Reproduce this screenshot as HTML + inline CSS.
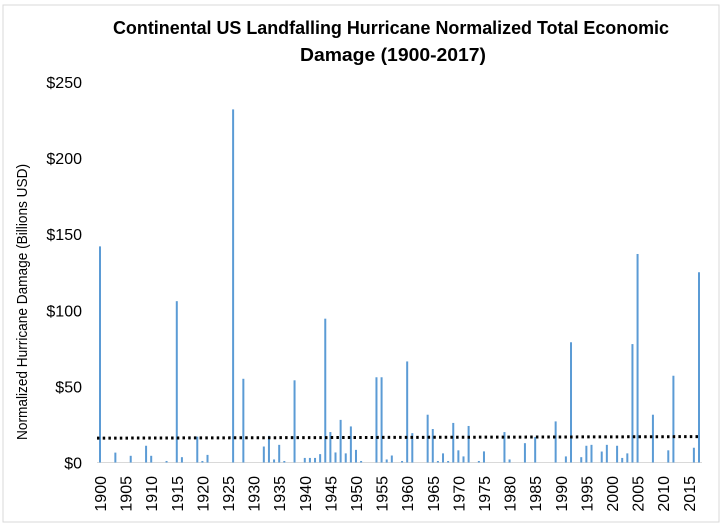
<!DOCTYPE html>
<html><head><meta charset="utf-8"><style>
html,body{margin:0;padding:0;background:#fff;}
svg{display:block;font-family:"Liberation Sans",sans-serif;}
</style></head><body>
<svg id="chart" width="722" height="525" viewBox="0 0 722 525">
<rect x="3" y="5" width="716" height="517" fill="#fff" stroke="#d9d9d9"/>
<text x="391" y="34" text-anchor="middle" font-size="18" font-weight="bold" textLength="556" lengthAdjust="spacingAndGlyphs">Continental US Landfalling Hurricane Normalized Total Economic</text>
<text x="393" y="61" text-anchor="middle" font-size="18" font-weight="bold" textLength="186" lengthAdjust="spacingAndGlyphs">Damage  (1900-2017)</text>
<text transform="translate(27,302) rotate(-90)" text-anchor="middle" font-size="15" textLength="276" lengthAdjust="spacingAndGlyphs">Normalized Hurricane Damage (Billions USD)</text>
<g id="yticks"></g><g id="xticks"></g>
<line x1="97" y1="462.5" x2="702" y2="462.5" stroke="#d9d9d9" stroke-width="1"/>
<g id="bars"></g><g id="trend"></g>
</svg>
<script>
const years = [1900,1903,1906,1909,1910,1913,1915,1916,1919,1920,1921,1926,1928,1932,1933,1934,1935,1936,1938,1940,1941,1942,1943,1944,1945,1946,1947,1948,1949,1950,1951,1954,1955,1956,1957,1959,1960,1961,1964,1965,1966,1967,1968,1969,1970,1971,1972,1974,1975,1979,1980,1983,1985,1989,1991,1992,1994,1995,1996,1998,1999,2001,2002,2003,2004,2005,2008,2011,2012,2016,2017];
const damage = [142,6.5,4.4,11,4.4,1,106,3.5,17,1,5,232,55,10.5,17.5,2,11.6,1,54,3,3,3,5.5,94.5,20,6.6,28,6,23.7,8.3,1,56,56,2,4.6,1,66.4,19.3,31.4,22,1,6,1,26,8,4,24,1,7.3,20,2,12.7,16.7,27,4,79,3.5,11,11.6,7.2,11.6,11,3,6,77.8,137,31.4,8,57,9.7,125];
const trendStart = [1900,16];
const trendEnd = [2017,17];
const yTickValues = [0,50,100,150,200,250];
const xTickYears = [1900,1905,1910,1915,1920,1925,1930,1935,1940,1945,1950,1955,1960,1965,1970,1975,1980,1985,1990,1995,2000,2005,2010,2015];

const NS="http://www.w3.org/2000/svg";
const xScale = y => 100 + (y-1900)*(599/117);
const yScale = v => 462.5 - v*1.522;
function mk(tag, attrs, parent){const e=document.createElementNS(NS,tag);for(const k in attrs)e.setAttribute(k,attrs[k]);parent.appendChild(e);return e;}

const yt=document.getElementById('yticks');
yTickValues.forEach(v=>{
  const t=mk('text',{x:82,y:yScale(v)+6,'text-anchor':'end','font-size':'16'},yt);
  t.textContent='$'+v;
  
  
});
const xt=document.getElementById('xticks');
xTickYears.forEach(y=>{
  const x=xScale(y);
  const t=mk('text',{transform:`translate(${x+6},476) rotate(-90)`,'text-anchor':'end','font-size':'16'},xt);
  t.textContent=y;
  
  
});
const bg=document.getElementById('bars');
years.forEach((y,i)=>{
  const x=xScale(y), top=yScale(damage[i]);
  const r=mk('rect',{x:x-1,y:top,width:2,height:462.5-top,fill:'#5b9bd5'},bg);
  
  
});
const tl=mk('line',{x1:xScale(trendStart[0])-3,y1:yScale(trendStart[1]),x2:xScale(trendEnd[0]),y2:yScale(trendEnd[1]),stroke:'#000','stroke-width':3,'stroke-dasharray':'2.5 3.2'},document.getElementById('trend'));


</script>
</body></html>
